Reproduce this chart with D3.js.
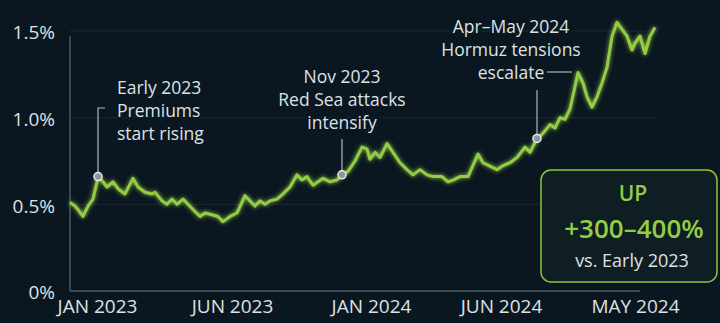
<!DOCTYPE html>
<html>
<head>
	<meta charset="UTF-8">
	<script src="https://d3js.org/d3.v7.min.js"></script>
	<style>
		body { margin: 0; background: #0b1720; }
		text { font-family: "Open Sans", Roboto, sans-serif; }
	</style>
</head>
<body>
	<svg></svg>
	<script type="text/javascript">

		// weekly premium (% of hull value)
		const weeks = [0, 1, 1.6, 2.6, 3.6, 4.6, 5.4, 5.6, 6.6, 7.4, 8.6, 9.6, 11, 12.6, 13.6, 15, 16.4, 17, 18.4, 19.4,
			20.4, 21.4, 22.6, 23.6, 24.6, 26, 27, 28.4, 29.6, 30.6, 32, 33.4, 35, 36, 37, 38, 39, 40, 41.4, 42.6,
			44, 45.4, 46.4, 47.4, 48.6, 50.6, 52, 53.4, 54.4, 55.6, 57, 58.4, 59.4, 60, 61, 62, 63.4, 64.6, 66, 67.4,
			68.6, 70, 71.4, 72.6, 74.4, 75.6, 76.6, 78, 79.6, 81.6, 82.6, 84, 85.4, 86.4, 88, 89.4, 91, 92, 93.4, 94.6,
			96, 97, 98, 99, 100, 101, 101.6, 102.6, 103.4, 104.4, 105.4, 106.4, 107.4, 108.4, 109.4, 110.4, 111.4, 112.4, 113, 114,
			115, 116, 117];
		const premium = [0.51, 0.49, 0.47, 0.43, 0.49, 0.53, 0.63, 0.66, 0.63, 0.60, 0.63, 0.59, 0.56, 0.65, 0.60, 0.57, 0.56, 0.57, 0.52, 0.50,
			0.53, 0.50, 0.53, 0.50, 0.47, 0.43, 0.45, 0.44, 0.43, 0.40, 0.43, 0.45, 0.55, 0.52, 0.49, 0.52, 0.50, 0.52, 0.53, 0.56,
			0.60, 0.67, 0.64, 0.66, 0.61, 0.65, 0.63, 0.64, 0.67, 0.69, 0.75, 0.83, 0.82, 0.76, 0.80, 0.77, 0.85, 0.80, 0.74, 0.70,
			0.67, 0.70, 0.67, 0.66, 0.66, 0.63, 0.64, 0.66, 0.66, 0.79, 0.74, 0.72, 0.70, 0.72, 0.74, 0.77, 0.83, 0.80, 0.88, 0.91,
			0.96, 0.94, 1.00, 0.99, 1.05, 1.18, 1.26, 1.20, 1.12, 1.06, 1.12, 1.20, 1.29, 1.47, 1.55, 1.51, 1.47, 1.39, 1.43, 1.47,
			1.37, 1.47, 1.52];

		const tickWeeks = [5.4, 32.4, 60.2, 86.2, 113];
		const tickLabels = ["JAN 2023", "JUN 2023", "JAN 2024", "JUN 2024", "MAY 2024"];
		const yTicks = [0, 0.5, 1.0, 1.5];

		const events = [
			{week: 5.6, value: 0.66, lines: ["Early 2023", "Premiums", "start rising"]},
			{week: 54.4, value: 0.67, lines: ["Nov 2023", "Red Sea attacks", "intensify"]},
			{week: 93.4, value: 0.88, lines: ["Apr\u2013May 2024", "Hormuz tensions", "escalate"]}
		];
		const callout = ["UP", "+300\u2013400%", "vs. Early 2023"];

		const width = 720;
		const height = 323;
		const margin = {top: 31, right: 65, bottom: 31, left: 70};

		const bg = "#0b1720";
		const green = "#93cc45";
		const textColor = "#dde2e4";

		const svg = d3.select("svg")
			.attr("width", width)
			.attr("height", height);

		const defs = svg.append("defs");
		const glow = defs.append("filter").attr("id", "glow")
			.attr("x", "-10%").attr("y", "-10%").attr("width", "120%").attr("height", "120%");
		glow.append("feGaussianBlur").attr("stdDeviation", 2).attr("result", "b");
		const merge = glow.append("feMerge");
		merge.append("feMergeNode").attr("in", "b");
		merge.append("feMergeNode").attr("in", "SourceGraphic");

		svg.append("rect")
			.attr("width", width).attr("height", height)
			.attr("fill", bg);

		const x = d3.scaleLinear()
			.domain([0, 117])
			.range([margin.left, 655]);

		const y = d3.scaleLinear()
			.domain([0, 1.5])
			.range([height - margin.bottom - 1, margin.top]);

		// gridlines
		svg.append("g")
			.selectAll("line")
			.data(yTicks.filter(d => d > 0))
			.join("line")
				.attr("x1", margin.left)
				.attr("x2", width - margin.right)
				.attr("y1", d => y(d))
				.attr("y2", d => y(d))
				.attr("stroke", "#ffffff")
				.attr("stroke-opacity", 0.07);

		// axes
		svg.append("g")
			.attr("transform", `translate(${margin.left},0)`)
			.call(d3.axisLeft(y).tickValues(yTicks).tickSize(0).tickPadding(15)
				.tickFormat(d => d === 0 ? "0%" : d.toFixed(1) + "%"))
			.call(g => g.select(".domain").remove())
			.call(g => g.selectAll("text")
				.attr("fill", textColor)
				.attr("font-size", 19)
				.attr("dy", "0.42em"));

		svg.append("g")
			.attr("transform", `translate(0,${y(0)})`)
			.call(d3.axisBottom(x).tickValues(tickWeeks).tickSize(0).tickPadding(9)
				.tickFormat((d, i) => tickLabels[i]))
			.call(g => g.select(".domain").remove())
			.call(g => g.selectAll("text")
				.attr("fill", textColor)
				.attr("font-size", 19));

		svg.append("line")
			.attr("x1", margin.left).attr("x2", margin.left)
			.attr("y1", y(1.47)).attr("y2", y(0))
			.attr("stroke", "#4a5a62").attr("stroke-width", 1.5);
		svg.append("line")
			.attr("x1", margin.left).attr("x2", width - margin.right - 15)
			.attr("y1", y(0)).attr("y2", y(0))
			.attr("stroke", "#4a5a62").attr("stroke-width", 1.5);

		// annotation leaders
		const lead = svg.append("g")
			.attr("stroke", "#aeb6ba")
			.attr("stroke-width", 1.2)
			.attr("fill", "none");

		lead.append("path")
			.attr("d", `M${x(events[0].week)},${y(events[0].value) - 4}V108H105`);
		lead.append("path")
			.attr("d", `M${x(events[1].week)},${y(events[1].value) - 4}V139`);
		lead.append("path")
			.attr("d", `M${x(events[2].week)},${y(events[2].value) - 4}V90`);
		lead.append("path")
			.attr("d", `M547,72H572`);

		// the series
		const data = weeks.map((w, i) => ({w, v: premium[i]}));
		const line = d3.line()
			.x(d => x(d.w))
			.y(d => y(d.v));

		svg.append("path")
			.datum(data)
			.attr("fill", "none")
			.attr("stroke", green)
			.attr("stroke-width", 3)
			.attr("stroke-linejoin", "round")
			.attr("filter", "url(#glow)")
			.attr("d", line);

		svg.append("g")
			.selectAll("circle")
			.data(events)
			.join("circle")
				.attr("cx", d => x(d.week))
				.attr("cy", d => y(d.value))
				.attr("r", 4)
				.attr("fill", "#8b979c")
				.attr("stroke", "#e6eaec")
				.attr("stroke-width", 1.5);

		// annotation text
		const notePos = [
			{x: 117, y: 88, anchor: "start"},
			{x: 342, y: 77, anchor: "middle"},
			{x: 511, y: 27, anchor: "middle"}
		];
		events.forEach((e, i) => {
			const t = svg.append("text")
				.attr("text-anchor", notePos[i].anchor)
				.attr("fill", textColor)
				.attr("font-size", 17.5)
				.attr("stroke", bg)
				.attr("stroke-width", 4)
				.attr("paint-order", "stroke");
			t.selectAll("tspan")
				.data(e.lines)
				.join("tspan")
					.attr("x", notePos[i].x)
					.attr("y", (d, j) => notePos[i].y + j * 23)
					.attr("dy", "0.35em")
					.text(d => d);
		});

		// callout box
		svg.append("rect")
			.attr("x", 541).attr("y", 170)
			.attr("width", 176).attr("height", 112)
			.attr("rx", 10)
			.attr("fill", "#0f1e22")
			.attr("stroke", "#8cc63f")
			.attr("stroke-width", 1.5);

		svg.append("text")
			.attr("x", 633).attr("y", 194).attr("dy", "0.35em")
			.attr("text-anchor", "middle")
			.attr("fill", green).attr("font-size", 21).attr("font-weight", 600)
			.text(callout[0]);
		svg.append("text")
			.attr("x", 634).attr("y", 229).attr("dy", "0.35em")
			.attr("text-anchor", "middle")
			.attr("fill", green).attr("font-size", 26).attr("font-weight", 600)
			.text(callout[1]);
		svg.append("text")
			.attr("x", 632).attr("y", 261).attr("dy", "0.35em")
			.attr("text-anchor", "middle")
			.attr("fill", textColor).attr("font-size", 18)
			.text(callout[2]);

	</script>
</body>
</html>
